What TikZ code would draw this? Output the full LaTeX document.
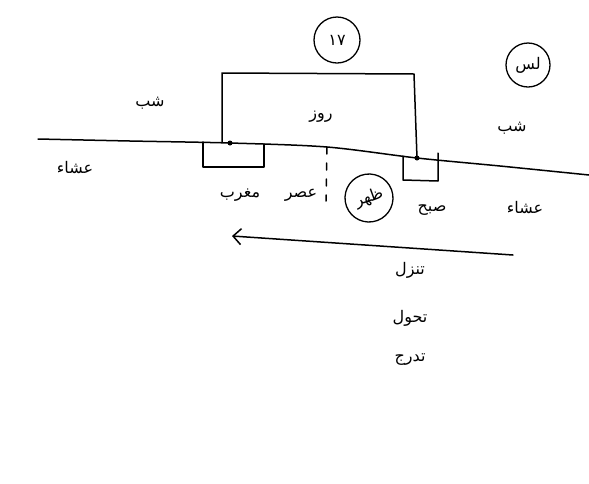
\documentclass[tikz,border=0pt]{standalone}
\usepackage{fontspec}
\newfontfamily\arabicfont[Script=Arabic]{DejaVu Sans}
\TeXXeTstate=1
\usetikzlibrary{arrows.meta}

\begin{document}
\begin{tikzpicture}[x=1pt, y=-1pt,
    pen/.style={draw=black, line width=1.5pt, line cap=round, line join=round},
    word/.style={font=\arabicfont\fontsize{16}{18}\selectfont, inner sep=1pt},
    ring/.style={circle, draw=black, line width=1.3pt, minimum size=46pt, inner sep=0pt,
      font=\arabicfont\fontsize{16}{18}\selectfont},
    spot/.style={circle, fill=black, minimum size=5pt, inner sep=0pt}]
  \useasboundingbox[fill=white] (0,0) rectangle (589,483);
  % horizon line with the two day ends
  \coordinate (maghrib) at (230,143);
  \coordinate (subh) at (417,158);
  \coordinate (noon) at (327,147);
  \draw[pen] plot[smooth, tension=0.5] coordinates
    {(38,139) (130,141) (maghrib) (noon) (subh) (500,166) (589,175)};
  \node[spot] at (maghrib) {};
  \node[spot] at (subh) {};
  % day box above the line
  \draw[pen] (222,142) -- (222,73) -- (414,74) -- (subh);
  % small boxes under the line
  \draw[pen] (203,142) -- (203,167) -- (264,167) -- (264,144);
  \draw[pen] (403,156) -- (403,180) -- (438,181) -- (438,153);
  \draw[pen, dash pattern=on 7pt off 9pt] (noon) -- (326,201);
  % circled marks
  \node[ring] (seventeen) at (337,40) {۱۷};
  \node[ring, minimum size=44pt] (les) at (528,65) {\beginR لس\endR};
  \node[ring, minimum size=48pt, rotate=20] (zuhr) at (369,198) {\beginR ظهر\endR};
  % labels
  \node[word] (nightL) at (150,103) {\beginR شب\endR};
  \node[word] (nightR) at (512,128) {\beginR شب\endR};
  \node[word] (day) at (321,117) {\beginR روز\endR};
  \node[word] (ishaL) at (75,168) {\beginR عشاء\endR};
  \node[word] (ishaR) at (525,208) {\beginR عشاء\endR};
  \node[word] (maghribL) at (240,195) {\beginR مغرب\endR};
  \node[word] (asr) at (301,195) {\beginR عصر\endR};
  \node[word] (subhL) at (432,210) {\beginR صبح\endR};
  % arrow and the three words
  \coordinate (arrR) at (513,255);
  \coordinate (arrL) at (232,236);
  \draw[pen, -{Straight Barb[length=8pt, width=16pt]}] (arrR) -- (arrL);
  \node[word] (tanazzul) at (410,270) {\beginR تنزل\endR};
  \node[word] (tahawwul) at (410,318) {\beginR تحول\endR};
  \node[word] (tadarruj) at (410,360) {\beginR تدرج\endR};
\end{tikzpicture}
\end{document}
